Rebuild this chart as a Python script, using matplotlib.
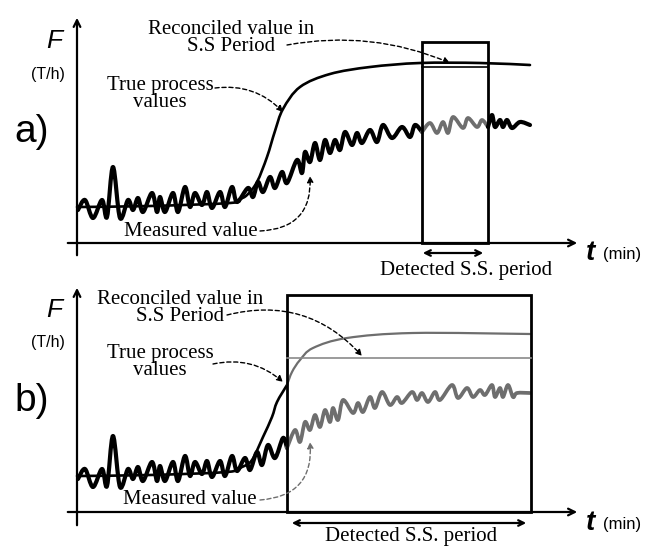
import numpy as np
import matplotlib.pyplot as plt
from matplotlib.path import Path
from matplotlib.patches import PathPatch

# --- data (arbitrary units: t along the time axis, F along the flow axis) ---
# measured signal, shared start of both panels
meas_start_t = [1, 8, 16, 25, 30, 36, 43, 51, 56, 61, 66, 75, 80, 83, 88, 96, 101,
                108, 113, 118, 125, 130, 135, 143, 148, 155, 160]
meas_start_F = [33, 43, 25, 43, 26, 76, 25, 43, 33, 45, 31, 50, 31, 46, 31, 50, 31,
                56, 36, 50, 38, 51, 35, 51, 36, 56, 41]

# panel a: rest of the measured signal
meas_a_t = [171, 176, 181, 186, 193, 198, 205, 210, 220, 225, 228, 233, 238, 243,
            248, 253, 258, 263, 268, 275, 280, 285, 293, 300, 306, 315, 325, 333,
            338, 345, 353, 360, 366, 371, 376, 386, 391, 400, 405, 411, 415, 418,
            423, 426, 430, 435, 443, 453]
meas_a_F = [55, 46, 61, 51, 66, 55, 71, 60, 83, 70, 91, 81, 100, 83,
            103, 90, 103, 93, 111, 98, 110, 100, 113, 101, 118, 105, 116, 106,
            118, 111, 120, 110, 121, 110, 126, 115, 125, 116, 123, 116, 128, 116,
            123, 116, 123, 115, 121, 118]
true_a_t = [0, 73, 153, 163, 170, 180, 190, 198, 206, 223, 253, 293, 343, 403, 453]
true_a_F = [36, 37, 40, 44, 48, 61, 86, 112, 134, 156, 169, 176, 180, 180, 178]
ss_a = (345, 411)      # detected steady-state period
recon_a = 176          # reconciled value

# panel b: rest of the measured signal
meas_b_t = [168, 173, 180, 185, 191, 198, 206, 210, 218, 223, 228, 233, 238, 243,
            248, 253, 256, 261, 266, 276, 281, 286, 293, 298, 305, 313, 320, 325,
            335, 340, 345, 351, 358, 363, 375, 381, 390, 396, 403, 408, 415, 418,
            423, 426, 431, 436, 440, 453]
meas_b_F = [54, 42, 60, 47, 67, 54, 74, 64, 82, 70, 90, 82, 97, 85,
            102, 90, 104, 92, 112, 99, 109, 100, 115, 104, 120, 107, 115, 109,
            120, 112, 119, 110, 120, 112, 127, 114, 124, 115, 122, 117, 127, 115,
            124, 115, 127, 115, 119, 119]
true_b_t = [0, 73, 150, 165, 175, 186, 195, 200, 210, 215, 223, 236, 270, 336, 453]
true_b_F = [36, 37, 40, 45, 52, 75, 95, 110, 127, 140, 152, 164, 174, 179, 178]
ss_b = (210, 454)
recon_b = 154

serif = 'Liberation Serif'
sans = 'Liberation Sans'
gray = '#6e6e6e'

fig = plt.figure(figsize=(6.46, 5.47), dpi=100)
ax_a = fig.add_axes([0, 1 - 275 / 547, 1, 275 / 547])
ax_b = fig.add_axes([0, 0, 1, 272 / 547])
ax_a.set_xlim(-77, 569)
ax_a.set_ylim(-32, 243)
ax_b.set_xlim(-77, 569)
ax_b.set_ylim(-35, 237)


def smooth_line(ax, t, F, **kw):
    # draw the points as a smooth curve (Catmull-Rom style bezier through every point)
    p = np.column_stack([t, F]).astype(float)
    n = len(p)
    verts = [p[0]]
    codes = [Path.MOVETO]
    for i in range(n - 1):
        p0 = p[i - 1] if i > 0 else p[i]
        p3 = p[i + 2] if i + 2 < n else p[i + 1]
        verts += [p[i] + (p[i + 1] - p0) / 6, p[i + 1] - (p3 - p[i]) / 6, p[i + 1]]
        codes += [Path.CURVE4] * 3
    ax.add_patch(PathPatch(Path(verts, codes), fill=False, capstyle='round',
                           joinstyle='round', **kw))


def draw_axes(ax, label, ytop, ybot):
    ax.axis('off')
    ax.annotate('', xy=(0, ytop), xytext=(0, ybot),
                arrowprops=dict(arrowstyle='->', lw=1.6, color='black', mutation_scale=12))
    ax.annotate('', xy=(503, 0), xytext=(-12, 0),
                arrowprops=dict(arrowstyle='->', lw=1.6, color='black', mutation_scale=12))
    ax.text(-23, 202, 'F', family=sans, style='italic', fontsize=19, ha='center', va='center')
    ax.text(-29, 169, '(T/h)', family=sans, fontsize=11.5, ha='center', va='center')
    ax.text(-45, 111, label, family=sans, fontsize=28, ha='center', va='center')


def split(t, F, lo, hi):
    t = np.asarray(t)
    F = np.asarray(F)
    before = t <= lo
    inside = (t >= lo) & (t <= hi)
    after = t >= hi
    return (t[before], F[before]), (t[inside], F[inside]), (t[after], F[after])


def dashed_arrow(ax, start, end, rad, color='black'):
    ax.annotate('', xy=end, xytext=start,
                arrowprops=dict(arrowstyle='-|>', lw=1.0, ls=(0, (3, 2)), color=color,
                                connectionstyle=f'arc3,rad={rad}', mutation_scale=9,
                                shrinkA=0, shrinkB=0))


def t_label(ax, y):
    ax.text(513, y, 't', family=sans, style='italic', weight='bold', fontsize=20,
            ha='center', va='center')
    ax.text(526, y - 2, '(min)', family=sans, fontsize=12, ha='left', va='center')


# ---------------- panel a ----------------
draw_axes(ax_a, 'a)', 228, -15)
ta = meas_start_t + meas_a_t
Fa = meas_start_F + meas_a_F
b1, b2, b3 = split(ta, Fa, ss_a[0], ss_a[1])
smooth_line(ax_a, *b1, color='black', lw=3.0)
smooth_line(ax_a, *b2, color=gray, lw=2.7)
smooth_line(ax_a, *b3, color='black', lw=3.0)
smooth_line(ax_a, true_a_t, true_a_F, color='black', lw=1.9)
ax_a.add_patch(plt.Rectangle((ss_a[0], 0), ss_a[1] - ss_a[0], 201, fill=False,
                             lw=2.0, ec='black'))
ax_a.plot(ss_a, [recon_a, recon_a], color='black', lw=1.2)
ax_a.annotate('', xy=(ss_a[1] - 2, -10), xytext=(ss_a[0] - 2, -10),
              arrowprops=dict(arrowstyle='<->', lw=1.6, color='black'))
ax_a.text(389, -27, 'Detected S.S. period', family=serif, fontsize=15,
          ha='center', va='center')
t_label(ax_a, -10)

ax_a.text(154, 205, 'Reconciled value in\nS.S Period', family=serif, fontsize=15,
          ha='center', va='center', linespacing=0.8)
dashed_arrow(ax_a, (210, 198), (373, 180), -0.15)
ax_a.text(83, 149, 'True process\nvalues', family=serif, fontsize=15,
          ha='center', va='center', linespacing=0.8)
dashed_arrow(ax_a, (138, 155), (206, 131), -0.25)
ax_a.text(114, 12, 'Measured value', family=serif, fontsize=15, ha='center', va='center')
dashed_arrow(ax_a, (183, 12), (233, 67), 0.5)

# ---------------- panel b ----------------
draw_axes(ax_b, 'b)', 227, -16)
tb = meas_start_t + meas_b_t
Fb = meas_start_F + meas_b_F
m1, m2, _ = split(tb, Fb, ss_b[0], ss_b[1])
smooth_line(ax_b, *m1, color='black', lw=3.0)
smooth_line(ax_b, *m2, color=gray, lw=2.7)
t1, t2, _ = split(true_b_t, true_b_F, ss_b[0], ss_b[1])
smooth_line(ax_b, *t1, color='black', lw=1.9)
smooth_line(ax_b, *t2, color=gray, lw=1.6)
ax_b.plot(ss_b, [recon_b, recon_b], color='#8a8a8a', lw=1.2)
ax_b.add_patch(plt.Rectangle((ss_b[0], 0), ss_b[1] - ss_b[0], 217, fill=False,
                             lw=2.0, ec='black'))
ax_b.annotate('', xy=(ss_b[1] - 2, -11), xytext=(ss_b[0] + 2, -11),
              arrowprops=dict(arrowstyle='<->', lw=1.6, color='black'))
ax_b.text(334, -34, 'Detected S.S. period', family=serif, fontsize=15,
          ha='center', va='bottom')
t_label(ax_b, -11)

ax_b.text(103, 204, 'Reconciled value in\nS.S Period', family=serif, fontsize=15,
          ha='center', va='center', linespacing=0.8)
dashed_arrow(ax_b, (150, 197), (285, 156), -0.3)
ax_b.text(83, 150, 'True process\nvalues', family=serif, fontsize=15,
          ha='center', va='center', linespacing=0.8)
dashed_arrow(ax_b, (136, 148), (206, 130), -0.25)
ax_b.text(113, 12, 'Measured value', family=serif, fontsize=15, ha='center', va='center')
dashed_arrow(ax_b, (183, 12), (233, 70), 0.5, color=gray)

fig.savefig('out.png', dpi=100)
